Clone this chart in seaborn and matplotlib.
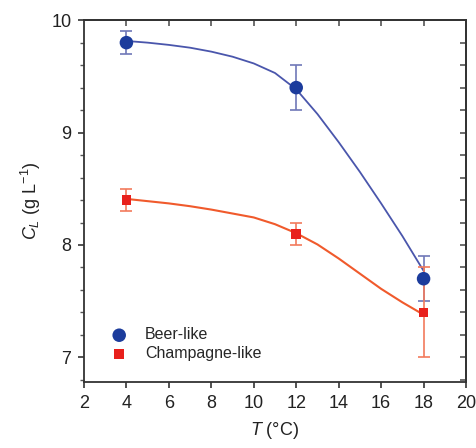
import matplotlib
matplotlib.use("Agg")
import matplotlib.pyplot as plt
from matplotlib.ticker import MultipleLocator
import seaborn as sns
import pandas as pd

# measured points (T in degC, C_L in g/L, error)
temps = [4, 12, 18]
beer_vals = [9.8, 9.4, 7.7]
beer_err = [0.1, 0.2, 0.2]
champ_vals = [8.4, 8.1, 7.4]
champ_err = [0.1, 0.1, 0.4]

# fitted curves
curve_t = [4, 5, 6, 7, 8, 9, 10, 11, 12, 13, 14, 15, 16, 17, 18]
beer_fit = [9.815, 9.80, 9.78, 9.755, 9.72, 9.675, 9.615, 9.53, 9.385,
            9.165, 8.915, 8.65, 8.37, 8.08, 7.77]
champ_fit = [8.41, 8.39, 8.37, 8.345, 8.315, 8.28, 8.245, 8.185, 8.105,
             8.005, 7.88, 7.745, 7.61, 7.49, 7.38]

sns.set_theme(style="ticks")
plt.rcParams['font.family'] = ['Liberation Sans', 'DejaVu Sans']
plt.rcParams['mathtext.fontset'] = 'custom'
plt.rcParams['mathtext.rm'] = 'Liberation Sans'
plt.rcParams['mathtext.it'] = 'Liberation Sans:italic'

fig = plt.figure(figsize=(4.77, 4.48), dpi=100)
ax = fig.add_axes([0.176, 0.147, 0.801, 0.808])

blue_pt = '#1c3c9c'
blue_line = '#4a56ac'
blue_err = '#7078b8'
red_pt = '#e8201c'
red_line = '#f05a2c'
red_err = '#f27a5c'

fits = pd.DataFrame({'T': curve_t, 'beer': beer_fit, 'champ': champ_fit})
sns.lineplot(data=fits, x='T', y='beer', color=blue_line, lw=1.3, ax=ax)
sns.lineplot(data=fits, x='T', y='champ', color=red_line, lw=1.5, ax=ax)

ax.errorbar(temps, beer_vals, yerr=beer_err, fmt='none', ecolor=blue_err,
            elinewidth=1.2, capsize=4.3, capthick=1.2, zorder=3)
ax.errorbar(temps, champ_vals, yerr=champ_err, fmt='none', ecolor=red_err,
            elinewidth=1.2, capsize=4.3, capthick=1.2, zorder=3)

pts = pd.DataFrame({'T': temps, 'beer': beer_vals, 'champ': champ_vals})
sns.scatterplot(data=pts, x='T', y='beer', color=blue_pt, marker='o', s=95,
                edgecolor='none', label='Beer-like', ax=ax, zorder=4)
sns.scatterplot(data=pts, x='T', y='champ', color=red_pt, marker='s', s=48,
                edgecolor='none', label='Champagne-like', ax=ax, zorder=4)

ax.set_xlim(2, 20)
ax.set_ylim(6.78, 10)
ax.xaxis.set_major_locator(MultipleLocator(2))
ax.yaxis.set_major_locator(MultipleLocator(1))
ax.yaxis.set_minor_locator(MultipleLocator(0.2))

for side in ['top', 'right', 'left', 'bottom']:
    ax.spines[side].set_visible(True)
    ax.spines[side].set_color('#333333')
    ax.spines[side].set_linewidth(1.3)

ax.tick_params(axis='both', which='major', direction='out', length=4, width=1.2,
               color='#333333', labelsize=13, labelcolor='#222222', pad=5)
ax.tick_params(axis='y', which='minor', direction='out', length=3, width=1.0, color='#555555')

# mirrored inward ticks on top/right
sec_x = ax.secondary_xaxis('top')
sec_x.set_xticks(range(4, 20, 2))
sec_x.tick_params(direction='in', length=4, width=1.2, labeltop=False, color='#555555')
sec_y = ax.secondary_yaxis('right')
sec_y.yaxis.set_major_locator(MultipleLocator(1))
sec_y.yaxis.set_minor_locator(MultipleLocator(0.2))
sec_y.tick_params(which='both', direction='in', length=4, width=1.2, labelright=False, color='#555555')

ax.set_xlabel(r'$T$ (°C)', fontsize=13, color='#222222', labelpad=6)
ax.set_ylabel(r'$C_L$ (g L$^{-1}$)', fontsize=13, color='#222222', labelpad=6)

ax.legend(loc='lower left', bbox_to_anchor=(0.017, 0.022), frameon=False,
          fontsize=11.5, handletextpad=0.6, labelspacing=0.25, borderpad=0.3)

plt.savefig('out.png', dpi=100)
